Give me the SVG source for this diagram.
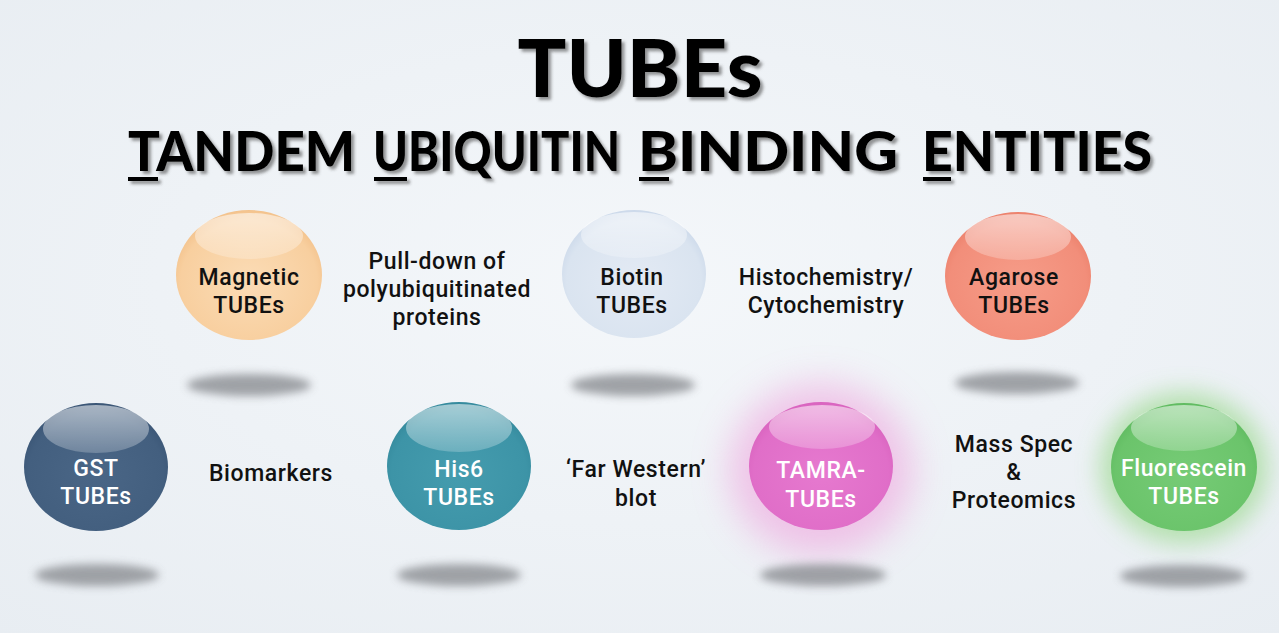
<svg xmlns="http://www.w3.org/2000/svg" width="1279" height="633" viewBox="0 0 1279 633">
  <defs>
    <radialGradient id="bg" cx="50%" cy="45%" r="75%">
      <stop offset="0" stop-color="#f4f7fa"/>
      <stop offset="1" stop-color="#e8edf2"/>
    </radialGradient>
    <filter id="tshadow" x="-5%" y="-20%" width="110%" height="150%">
      <feDropShadow dx="3" dy="3" stdDeviation="1.5" flood-color="#444" flood-opacity="0.55"/>
    </filter>
    <filter id="blurS" x="-30%" y="-100%" width="160%" height="300%">
      <feGaussianBlur stdDeviation="4"/>
    </filter>
    <filter id="glowB" x="-60%" y="-60%" width="220%" height="220%">
      <feGaussianBlur stdDeviation="18"/>
    </filter>
    <filter id="glowG" x="-50%" y="-50%" width="200%" height="200%">
      <feGaussianBlur stdDeviation="12"/>
    </filter>
    <linearGradient id="hl" x1="0" y1="0" x2="0" y2="1">
      <stop offset="0" stop-color="#fff" stop-opacity="0.55"/>
      <stop offset="1" stop-color="#fff" stop-opacity="0.22"/>
    </linearGradient>
    <radialGradient id="gMag" cx="50%" cy="55%" r="55%">
      <stop offset="0" stop-color="#fbdcb6"/><stop offset="0.85" stop-color="#f8cf9f"/><stop offset="1" stop-color="#f3c28c"/>
    </radialGradient>
    <radialGradient id="gBio" cx="50%" cy="55%" r="55%">
      <stop offset="0" stop-color="#e3eaf4"/><stop offset="0.85" stop-color="#dae4f0"/><stop offset="1" stop-color="#ccd9ea"/>
    </radialGradient>
    <radialGradient id="gAga" cx="50%" cy="55%" r="55%">
      <stop offset="0" stop-color="#f69c88"/><stop offset="0.85" stop-color="#f28e7a"/><stop offset="1" stop-color="#ec826d"/>
    </radialGradient>
    <radialGradient id="gGst" cx="50%" cy="55%" r="55%">
      <stop offset="0" stop-color="#4a6686"/><stop offset="0.85" stop-color="#435f7f"/><stop offset="1" stop-color="#3b5676"/>
    </radialGradient>
    <radialGradient id="gHis" cx="50%" cy="55%" r="55%">
      <stop offset="0" stop-color="#459cae"/><stop offset="0.85" stop-color="#3d94a7"/><stop offset="1" stop-color="#358a9d"/>
    </radialGradient>
    <radialGradient id="gTam" cx="50%" cy="55%" r="55%">
      <stop offset="0" stop-color="#e679cf"/><stop offset="0.85" stop-color="#e06ec8"/><stop offset="1" stop-color="#d964bf"/>
    </radialGradient>
    <radialGradient id="gFlu" cx="50%" cy="55%" r="55%">
      <stop offset="0" stop-color="#76cb76"/><stop offset="0.85" stop-color="#6bc46b"/><stop offset="1" stop-color="#60bb61"/>
    </radialGradient>
  </defs>
  <style>
    .title { font-family: Lato, "Liberation Sans", sans-serif; font-weight: 900; fill: #000; }
    .sub { font-size: 56px; }
    .lbl { font-family: Roboto, "Liberation Sans", sans-serif; font-weight: 500; font-size: 23px; letter-spacing: 0.6px; fill: #111; text-anchor: middle; }
    .dark { fill: #111; }
    .light { fill: #fff; }
    .shadow { fill: #8b8e93; opacity: 0.8; filter: url(#blurS); }
    .hl { fill: url(#hl); }
    .ul { fill: #000; }
  </style>

  <rect width="1279" height="633" fill="url(#bg)"/>

  <g id="title" filter="url(#tshadow)">
    <text class="title" x="640" y="97" font-size="80" text-anchor="middle" textLength="245" lengthAdjust="spacingAndGlyphs">TUBEs</text>
    <text class="title sub" transform="translate(128,171) scale(0.96,1)" textLength="236.5" lengthAdjust="spacingAndGlyphs">TANDEM</text>
    <text class="title sub" transform="translate(373,171) scale(0.85,1)" textLength="290.6" lengthAdjust="spacingAndGlyphs">UBIQUITIN</text>
    <text class="title sub" transform="translate(638,171) scale(1.08,1)" textLength="240.7" lengthAdjust="spacingAndGlyphs">BINDING</text>
    <text class="title sub" transform="translate(922,171)" textLength="230" lengthAdjust="spacingAndGlyphs">ENTITIES</text>
    <rect class="ul" x="128" y="177" width="30" height="4"/>
    <rect class="ul" x="374" y="177" width="33" height="4"/>
    <rect class="ul" x="639" y="177" width="30" height="4"/>
    <rect class="ul" x="923" y="177" width="28" height="4"/>
  </g>

  <g id="connectors"/>

  <g id="node-magnetic">
    <ellipse class="shadow" cx="249" cy="385" rx="62" ry="11"/>
    <ellipse cx="249" cy="275" rx="73" ry="65" fill="url(#gMag)"/>
    <ellipse class="hl" cx="249" cy="236" rx="54" ry="23"/>
    <text class="lbl dark" x="249" y="285">Magnetic<tspan x="249" dy="28">TUBEs</tspan></text>
  </g>

  <g id="node-biotin">
    <ellipse class="shadow" cx="633" cy="385" rx="62" ry="11"/>
    <ellipse cx="634" cy="274" rx="72" ry="64" fill="url(#gBio)"/>
    <ellipse class="hl" cx="634" cy="235" rx="53" ry="23"/>
    <text class="lbl dark" x="632" y="285">Biotin<tspan x="632" dy="28">TUBEs</tspan></text>
  </g>

  <g id="node-agarose">
    <ellipse class="shadow" cx="1017" cy="383" rx="62" ry="11"/>
    <ellipse cx="1018" cy="276" rx="73" ry="64" fill="url(#gAga)"/>
    <ellipse class="hl" cx="1018" cy="237" rx="53" ry="23"/>
    <text class="lbl dark" x="1014" y="285">Agarose<tspan x="1014" dy="28">TUBEs</tspan></text>
  </g>

  <g id="node-gst">
    <ellipse class="shadow" cx="97" cy="575" rx="62" ry="11"/>
    <ellipse cx="96" cy="467" rx="72" ry="64" fill="url(#gGst)"/>
    <ellipse class="hl" cx="96" cy="429" rx="53" ry="24"/>
    <text class="lbl light" x="96" y="476">GST<tspan x="96" dy="28">TUBEs</tspan></text>
  </g>

  <g id="node-his6">
    <ellipse class="shadow" cx="459" cy="575" rx="62" ry="11"/>
    <ellipse cx="459" cy="466" rx="72" ry="64" fill="url(#gHis)"/>
    <ellipse class="hl" cx="459" cy="428" rx="53" ry="24"/>
    <text class="lbl light" x="459" y="477">His6<tspan x="459" dy="28">TUBEs</tspan></text>
  </g>

  <g id="node-tamra">
    <ellipse cx="821" cy="470" rx="92" ry="86" fill="#efb2e2" opacity="0.75" filter="url(#glowB)"/>
    <ellipse class="shadow" cx="823" cy="575" rx="63" ry="11"/>
    <ellipse cx="821" cy="466" rx="72" ry="64" fill="url(#gTam)"/>
    <ellipse class="hl" cx="822" cy="427" rx="53" ry="22"/>
    <text class="lbl light" x="821" y="478">TAMRA-<tspan x="821" dy="29">TUBEs</tspan></text>
  </g>

  <g id="node-fluorescein">
    <ellipse cx="1184" cy="468" rx="84" ry="76" fill="#abdea3" opacity="0.85" filter="url(#glowG)"/>
    <ellipse class="shadow" cx="1183" cy="576" rx="63" ry="11"/>
    <ellipse cx="1184" cy="467" rx="73" ry="64" fill="url(#gFlu)"/>
    <ellipse class="hl" cx="1184" cy="428" rx="53" ry="23"/>
    <text class="lbl light" x="1184" y="476">Fluorescein<tspan x="1184" dy="28">TUBEs</tspan></text>
  </g>

  <g id="label-pulldown">
    <text class="lbl" x="437" y="269">Pull-down of<tspan x="437" dy="28">polyubiquitinated</tspan><tspan x="437" dy="28">proteins</tspan></text>
  </g>
  <g id="label-histo">
    <text class="lbl" x="826" y="285">Histochemistry/<tspan x="826" dy="28">Cytochemistry</tspan></text>
  </g>
  <g id="label-biomarkers">
    <text class="lbl" x="271" y="481">Biomarkers</text>
  </g>
  <g id="label-farwestern">
    <text class="lbl" x="636" y="477">‘Far Western’<tspan x="636" dy="29">blot</tspan></text>
  </g>
  <g id="label-massspec">
    <text class="lbl" x="1014" y="452">Mass Spec<tspan x="1014" dy="28">&amp;</tspan><tspan x="1014" dy="28">Proteomics</tspan></text>
  </g>
</svg>
